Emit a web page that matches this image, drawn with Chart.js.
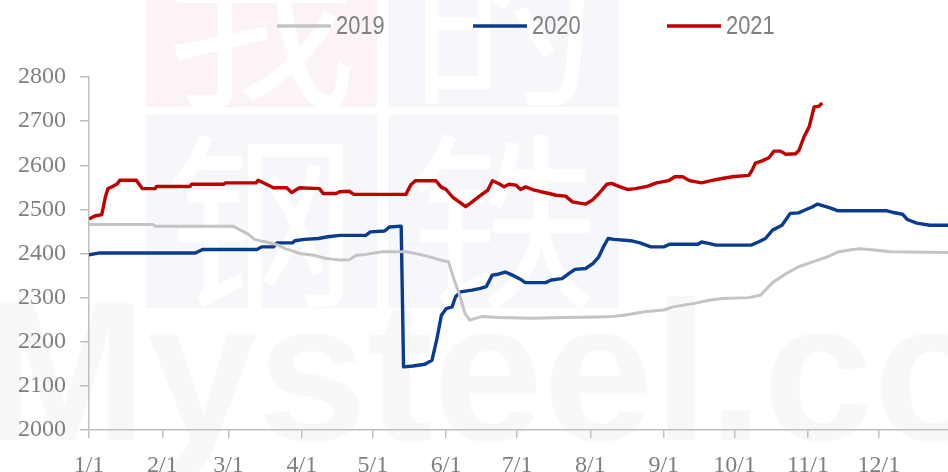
<!DOCTYPE html>
<html>
<head>
<meta charset="utf-8">
<script src="https://cdn.jsdelivr.net/npm/chart.js@4"></script>
<style>
  html, body { margin: 0; padding: 0; background: #fff; }
  #wrap { width: 948px; height: 472px; position: relative; }
</style>
</head>
<body>
<div id="wrap"><canvas id="c"></canvas></div>
<script>
// day of year (1/1 = 0) and price
const days2019 = [0, 27, 28, 61, 64, 67, 70, 73, 75, 80, 83, 86, 89, 95, 100, 106, 110, 113, 117, 124, 134, 137, 143, 148, 152, 154, 156.5, 159, 161, 166, 173, 187, 201, 215, 221, 226, 235, 243, 247, 256, 262, 268, 279, 284, 289, 295, 300, 306, 312, 317, 323, 326, 332, 339, 364];
const vals2019 = [2466, 2466, 2462, 2462, 2453, 2445, 2432, 2428, 2426, 2419, 2411, 2406, 2400, 2396, 2389, 2385, 2386, 2396, 2398, 2404, 2404, 2401, 2394, 2386, 2381, 2347, 2309, 2264, 2249, 2257, 2255, 2253, 2255, 2256, 2257, 2260, 2268, 2272, 2279, 2287, 2294, 2298, 2300, 2306, 2334, 2355, 2370, 2381, 2392, 2404, 2409, 2411, 2408, 2404, 2402];

const days2020 = [0, 4, 45, 48, 71, 73, 78, 79.5, 86, 87, 91, 97, 101, 106, 117, 119, 125, 127, 132, 133, 137, 142, 145, 147, 149, 151, 153.5, 155, 157, 162, 165.5, 168, 170.5, 173, 176, 179, 182, 184.5, 193, 195.5, 200, 203, 205.5, 210, 213, 215.5, 217.5, 219.5, 222, 229, 233, 237.5, 243, 245.5, 257.5, 259, 262, 265, 280, 283, 286, 289, 293, 296.5, 300, 302, 306, 308, 313, 316.5, 337, 340, 344, 346, 350, 355.5, 364];
const vals2020 = [2397, 2401, 2401, 2409, 2409, 2415, 2415, 2424, 2424, 2429, 2432, 2434, 2438, 2441, 2441, 2449, 2451, 2460, 2462, 2143, 2145, 2149, 2158, 2204, 2260, 2275, 2279, 2302, 2313, 2317, 2321, 2325, 2351, 2353, 2358, 2351, 2343, 2334, 2334, 2340, 2343, 2355, 2364, 2366, 2377, 2392, 2415, 2434, 2432, 2429, 2424, 2415, 2415, 2421, 2421, 2426, 2423, 2419, 2419, 2426, 2434, 2453, 2464, 2491, 2492, 2497, 2506, 2512, 2504, 2497, 2497, 2493, 2489, 2477, 2469, 2464, 2464];

const days2021 = [0, 2.4, 5.4, 7, 8, 10, 12, 13, 20, 22.6, 28, 28.5, 42.7, 43.4, 57, 57.6, 70.6, 71.5, 75, 78, 83.6, 85.7, 89, 97.5, 99, 104.5, 106, 110, 112, 134, 136, 138, 146.7, 148.8, 151, 153.7, 156.5, 159.3, 162, 165.6, 168.5, 170.6, 173.4, 175.5, 177.6, 180.5, 182.5, 184.6, 187.5, 191, 194.6, 197.4, 201.5, 204.4, 210, 212.8, 215.6, 219, 221, 224, 228, 231, 236, 240, 245, 247.7, 251, 254, 259, 263, 267.6, 272, 279, 280.4, 281.8, 284.6, 287.5, 289.6, 292.4, 294.6, 298.8, 300.2, 302.3, 304.5, 306.6, 308.7, 310];
const vals2021 = [2478, 2485, 2488, 2530, 2547, 2552, 2558, 2566, 2566, 2547, 2547, 2552, 2552, 2557, 2557, 2560, 2560, 2566, 2557, 2549, 2549, 2538, 2549, 2547, 2536, 2536, 2540, 2541, 2534, 2534, 2555, 2565, 2565, 2551, 2545, 2528, 2517, 2506, 2517, 2532, 2543, 2565, 2558, 2551, 2557, 2555, 2545, 2551, 2545, 2540, 2536, 2532, 2530, 2517, 2512, 2521, 2536, 2557, 2559, 2552, 2545, 2547, 2552, 2560, 2565, 2574, 2574, 2565, 2560, 2565, 2570, 2574, 2577, 2589, 2605, 2610, 2617, 2632, 2632, 2625, 2626, 2634, 2664, 2687, 2732, 2734, 2741];

const monthDays = [0, 31, 59, 90, 120, 151, 181, 212, 243, 273, 304, 334];
const monthLabels = ['1/1', '2/1', '3/1', '4/1', '5/1', '6/1', '7/1', '8/1', '9/1', '10/1', '11/1', '12/1'];
const yMin = 2000, yMax = 2800, yStep = 100;
const seriesNames = ['2019', '2020', '2021'];
const seriesColors = ['#C4C4C4', '#0A3C8E', '#C00000'];

const toPoints = (d, v) => d.map((x, i) => ({ x: x, y: v[i] }));

// faint Mysteel watermark behind the plot
const watermark = {
  id: 'watermark',
  beforeDraw(chart) {
    const ctx = chart.ctx;
    ctx.save();
    const blocks = [
      { x: 146, y: -86, w: 231, h: 193, c: '#FCF4F4', t: '我' },
      { x: 388, y: -86, w: 231, h: 193, c: '#F5F7FB', t: '的' },
      { x: 146, y: 115, w: 231, h: 193, c: '#F5F7FB', t: '钢' },
      { x: 388, y: 115, w: 231, h: 193, c: '#F5F7FB', t: '铁' }
    ];
    blocks.forEach(b => {
      ctx.fillStyle = b.c;
      ctx.fillRect(b.x, b.y, b.w, b.h);
      ctx.save();
      ctx.beginPath();
      ctx.rect(b.x, b.y, b.w, b.h);
      ctx.clip();
      ctx.fillStyle = '#FFFFFF';
      ctx.font = '190px "Noto Sans CJK SC"';
      ctx.textAlign = 'center';
      ctx.textBaseline = 'middle';
      ctx.fillText(b.t, b.x + b.w / 2, b.y + b.h / 2 + 10);
      ctx.restore();
    });
    ctx.fillStyle = '#F8F8F8';
    ctx.font = 'bold 198px "Liberation Sans"';
    ctx.textAlign = 'left';
    ctx.textBaseline = 'alphabetic';
    ctx.fillText('Mysteel.com', -18, 440);
    ctx.restore();
  }
};

// legend drawn at the spots it has in the picture
const topLegend = {
  id: 'topLegend',
  afterDraw(chart) {
    const ctx = chart.ctx;
    const spots = [277, 473, 667];
    ctx.save();
    ctx.textBaseline = 'middle';
    ctx.textAlign = 'left';
    chart.data.datasets.forEach((ds, i) => {
      const x0 = spots[i];
      ctx.strokeStyle = ds.borderColor;
      ctx.lineWidth = 3.5;
      ctx.beginPath();
      ctx.moveTo(x0, 26);
      ctx.lineTo(x0 + 54, 26);
      ctx.stroke();
      ctx.save();
      ctx.translate(x0 + 59, 26);
      ctx.scale(0.84, 1);
      ctx.font = '26px "Liberation Sans"';
      ctx.fillStyle = '#808080';
      ctx.fillText(ds.label, 0, 1);
      ctx.restore();
    });
    ctx.restore();
  }
};

new Chart(document.getElementById('c'), {
  type: 'line',
  data: {
    datasets: [
      { label: seriesNames[0], data: toPoints(days2019, vals2019), borderColor: seriesColors[0], borderWidth: 3 },
      { label: seriesNames[1], data: toPoints(days2020, vals2020), borderColor: seriesColors[1], borderWidth: 3.4 },
      { label: seriesNames[2], data: toPoints(days2021, vals2021), borderColor: seriesColors[2], borderWidth: 3.4 }
    ]
  },
  options: {
    responsive: true,
    maintainAspectRatio: false,
    animation: false,
    layout: { padding: { top: 77, right: 0, left: 0, bottom: 0 } },
    elements: { point: { radius: 0 }, line: { tension: 0, borderJoinStyle: 'round' } },
    plugins: { legend: { display: false }, tooltip: { enabled: false } },
    scales: {
      x: {
        type: 'linear',
        min: 0,
        max: 363.2,
        afterBuildTicks: s => { s.ticks = monthDays.map(v => ({ value: v })); },
        afterFit: s => { s.height = 42; },
        ticks: {
          autoSkip: false,
          maxRotation: 0,
          padding: 13,
          color: '#7F7F7F',
          font: { family: '"Liberation Serif"', size: 24 },
          callback: (v, i) => monthLabels[i]
        },
        grid: { drawOnChartArea: false, drawTicks: true, tickLength: 8, color: '#BFBFBF', lineWidth: 1.5 },
        border: { color: '#BFBFBF', width: 1.5 }
      },
      y: {
        min: yMin,
        max: yMax,
        afterFit: s => { s.width = 89; },
        ticks: {
          stepSize: yStep,
          padding: 14,
          color: '#7F7F7F',
          font: { family: '"Liberation Serif"', size: 24 },
          callback: v => String(v)
        },
        grid: { drawOnChartArea: false, drawTicks: true, tickLength: 9, color: '#BFBFBF', lineWidth: 1.5 },
        border: { color: '#BFBFBF', width: 1.5 }
      }
    }
  },
  plugins: [watermark, topLegend]
});
</script>
</body>
</html>
